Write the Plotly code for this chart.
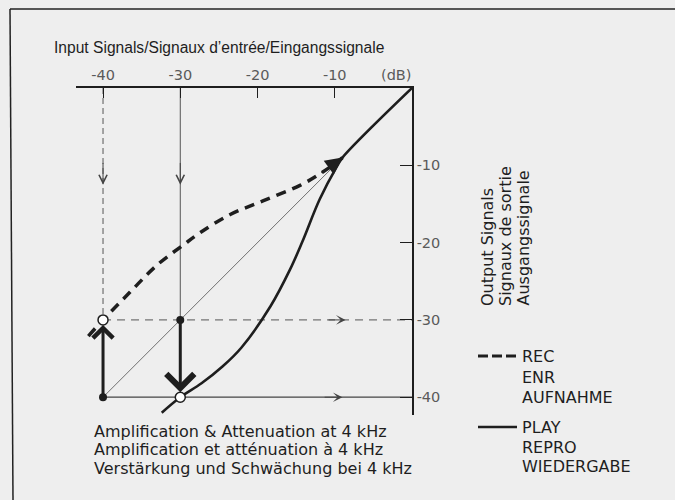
import plotly.graph_objects as go

# ---- data (dB) ----
x_ticks = [-40, -30, -20, -10]
y_ticks = [-10, -20, -30, -40]
x_tick_text = ["-40", "-30", "-20", "-10"]
y_tick_text = ["-10", "-20", "-30", "-40"]

rec_x = [-41.9, -40, -36.5, -33.0, -29.6, -27.4, -23.6, -19.3, -14.5, -11.9, -10.0, -9.0]
rec_y = [-32.1, -30, -26.4, -22.9, -20.3, -18.7, -16.4, -14.6, -12.6, -11.1, -9.8, -9.0]

play_x = [-32.4, -30, -27.25, -24.5, -22.1, -18.3, -15.8, -14.2, -11.95, -9.7, -9.0, 0]
play_y = [-42.0, -40, -38.2, -36.0, -33.6, -28.2, -23.5, -19.9, -14.4, -10.1, -9.0, 0]

diag_x = [-40, 0]
diag_y = [-40, 0]

rec_in = -40      # input level for REC example
play_in = -30     # input level for PLAY example
rec_out = -30
play_out = -40

W, H = 675, 500
L, R, T, B = 76, 263, 88, 85
PW, PH = W - L - R, H - T - B

def px(x):
    return (x - L) / PW

def py(y):
    return (H - B - y) / PH

FONT = "Liberation Sans, Arial, sans-serif"
WIDE = "DejaVu Sans, Verdana, sans-serif"
INK = "#1e1e1e"
TICK = "#5a5a5a"

fig = go.Figure()

# thin guide lines
fig.add_trace(go.Scatter(x=diag_x, y=diag_y, mode="lines",
                         line=dict(color="#707070", width=1), hoverinfo="skip"))
fig.add_trace(go.Scatter(x=[rec_in, rec_in], y=[0, rec_out], mode="lines",
                         line=dict(color="#555", width=1, dash="6px,4px"), hoverinfo="skip"))
fig.add_trace(go.Scatter(x=[play_in, play_in], y=[0, rec_out], mode="lines",
                         line=dict(color="#555", width=1), hoverinfo="skip"))
fig.add_trace(go.Scatter(x=[rec_in, 0], y=[rec_out, rec_out], mode="lines",
                         line=dict(color="#555", width=1, dash="8px,6px"), hoverinfo="skip"))
fig.add_trace(go.Scatter(x=[rec_in, 0], y=[play_out, play_out], mode="lines",
                         line=dict(color="#444", width=1.2), hoverinfo="skip"))

# curves
fig.add_trace(go.Scatter(x=rec_x, y=rec_y, mode="lines", line_shape="spline",
                         line=dict(color=INK, width=3.5, dash="10px,7px"), hoverinfo="skip"))
fig.add_trace(go.Scatter(x=play_x, y=play_y, mode="lines", line_shape="spline",
                         line=dict(color=INK, width=2.6), hoverinfo="skip"))

# points
fig.add_trace(go.Scatter(x=[rec_in, play_in], y=[play_out, rec_out], mode="markers",
                         marker=dict(color=INK, size=8), hoverinfo="skip"))
fig.add_trace(go.Scatter(x=[rec_in, play_in], y=[rec_out, play_out], mode="markers",
                         marker=dict(color="white", size=10, line=dict(color=INK, width=1.5)),
                         hoverinfo="skip"))

anns = []
def arrow(x, y, ax, ay, width, head, size, color=INK, standoff=0):
    anns.append(dict(x=x, y=y, ax=ax, ay=ay, xref="x", yref="y", axref="x", ayref="y",
                     text="", showarrow=True, arrowhead=head, arrowsize=size,
                     arrowwidth=width, arrowcolor=color, standoff=standoff))

# thin arrows on guide lines
arrow(rec_in, -12.5, rec_in, -9.5, 1, 5, 1.6, "#444")
arrow(play_in, -12.5, play_in, -9.5, 1, 5, 1.6, "#444")
arrow(-8.6, rec_out, -11, rec_out, 1, 3, 1.6, "#444")
arrow(-9, play_out, -11.5, play_out, 1, 3, 1.6, "#444")
# thick arrows
arrow(rec_in, rec_out, rec_in, play_out, 3, 4, 1.3, standoff=5)
arrow(play_in, play_out, play_in, rec_out, 3, 4, 1.8, standoff=5)
# REC curve end arrow
arrow(rec_x[-1], rec_y[-1], rec_x[-3], rec_y[-3], 2, 2, 1.7)

def text(s, x, y, size=16, color=INK, xanchor="left", yanchor="middle", family=WIDE, **kw):
    anns.append(dict(text=s, x=px(x), y=py(y), xref="paper", yref="paper",
                     showarrow=False, xanchor=xanchor, yanchor=yanchor,
                     font=dict(family=family, size=size, color=color), **kw))

text("Input Signals/Signaux d\u2019entrée/Eingangssignale", 52, 48, 15.6, family=FONT)
text("(dB)", 396, 75, 14.5, TICK, xanchor="center")
text("Output Signals", 487, 308, 16, xanchor="center", yanchor="bottom", textangle=-90)
text("Signaux de sortie", 505, 308, 16, xanchor="center", yanchor="bottom", textangle=-90)
text("Ausgangssignale", 523, 308, 16, xanchor="center", yanchor="bottom", textangle=-90)
text("REC", 520, 356, 16)
text("ENR", 520, 377, 16)
text("AUFNAHME", 520, 397, 16)
text("PLAY", 520, 427, 16)
text("REPRO", 520, 447, 16)
text("WIEDERGABE", 520, 466, 16)
text("Amplification &amp; Attenuation at 4 kHz", 92, 431, 16)
text("Amplification et atténuation à 4 kHz", 92, 449.5, 16)
text("Verstärkung und Schwächung bei 4 kHz", 92, 468, 16)

shapes = [
    dict(type="line", xref="paper", yref="paper", x0=px(478), x1=px(517), y0=py(356), y1=py(356),
         line=dict(color=INK, width=3, dash="10px,4px")),
    dict(type="line", xref="paper", yref="paper", x0=px(478), x1=px(517), y0=py(427), y1=py(427),
         line=dict(color=INK, width=2.6)),
    dict(type="line", xref="paper", yref="paper", x0=px(10), x1=px(675), y0=py(9), y1=py(9),
         line=dict(color="#222", width=1.5)),
    dict(type="line", xref="paper", yref="paper", x0=px(10), x1=px(13), y0=py(9), y1=py(500),
         line=dict(color="#222", width=1.5)),
]

fig.update_layout(
    width=W, height=H,
    margin=dict(l=L, r=R, t=T, b=B),
    paper_bgcolor="#eeeeee", plot_bgcolor="#eeeeee",
    showlegend=False,
    annotations=anns, shapes=shapes,
    xaxis=dict(range=[-43.5, 0], side="top", showline=True, linecolor=INK, linewidth=1.5,
               showgrid=False, zeroline=False, ticks="inside", ticklen=10, tickcolor=INK,
               tickwidth=1, tickvals=x_ticks, ticktext=x_tick_text,
               tickfont=dict(family=WIDE, size=14.5, color=TICK), fixedrange=True),
    yaxis=dict(range=[-42.3, 0], side="right", showline=True, linecolor=INK, linewidth=1.5,
               showgrid=False, zeroline=False, ticks="inside", ticklen=12, tickcolor=INK,
               tickwidth=1, tickvals=y_ticks, ticktext=y_tick_text,
               tickfont=dict(family=WIDE, size=14.5, color=TICK), fixedrange=True),
)

fig.write_html("out.html", config={"displayModeBar": False},
               post_script="document.body.style.margin='0';document.body.style.overflow='hidden';")
